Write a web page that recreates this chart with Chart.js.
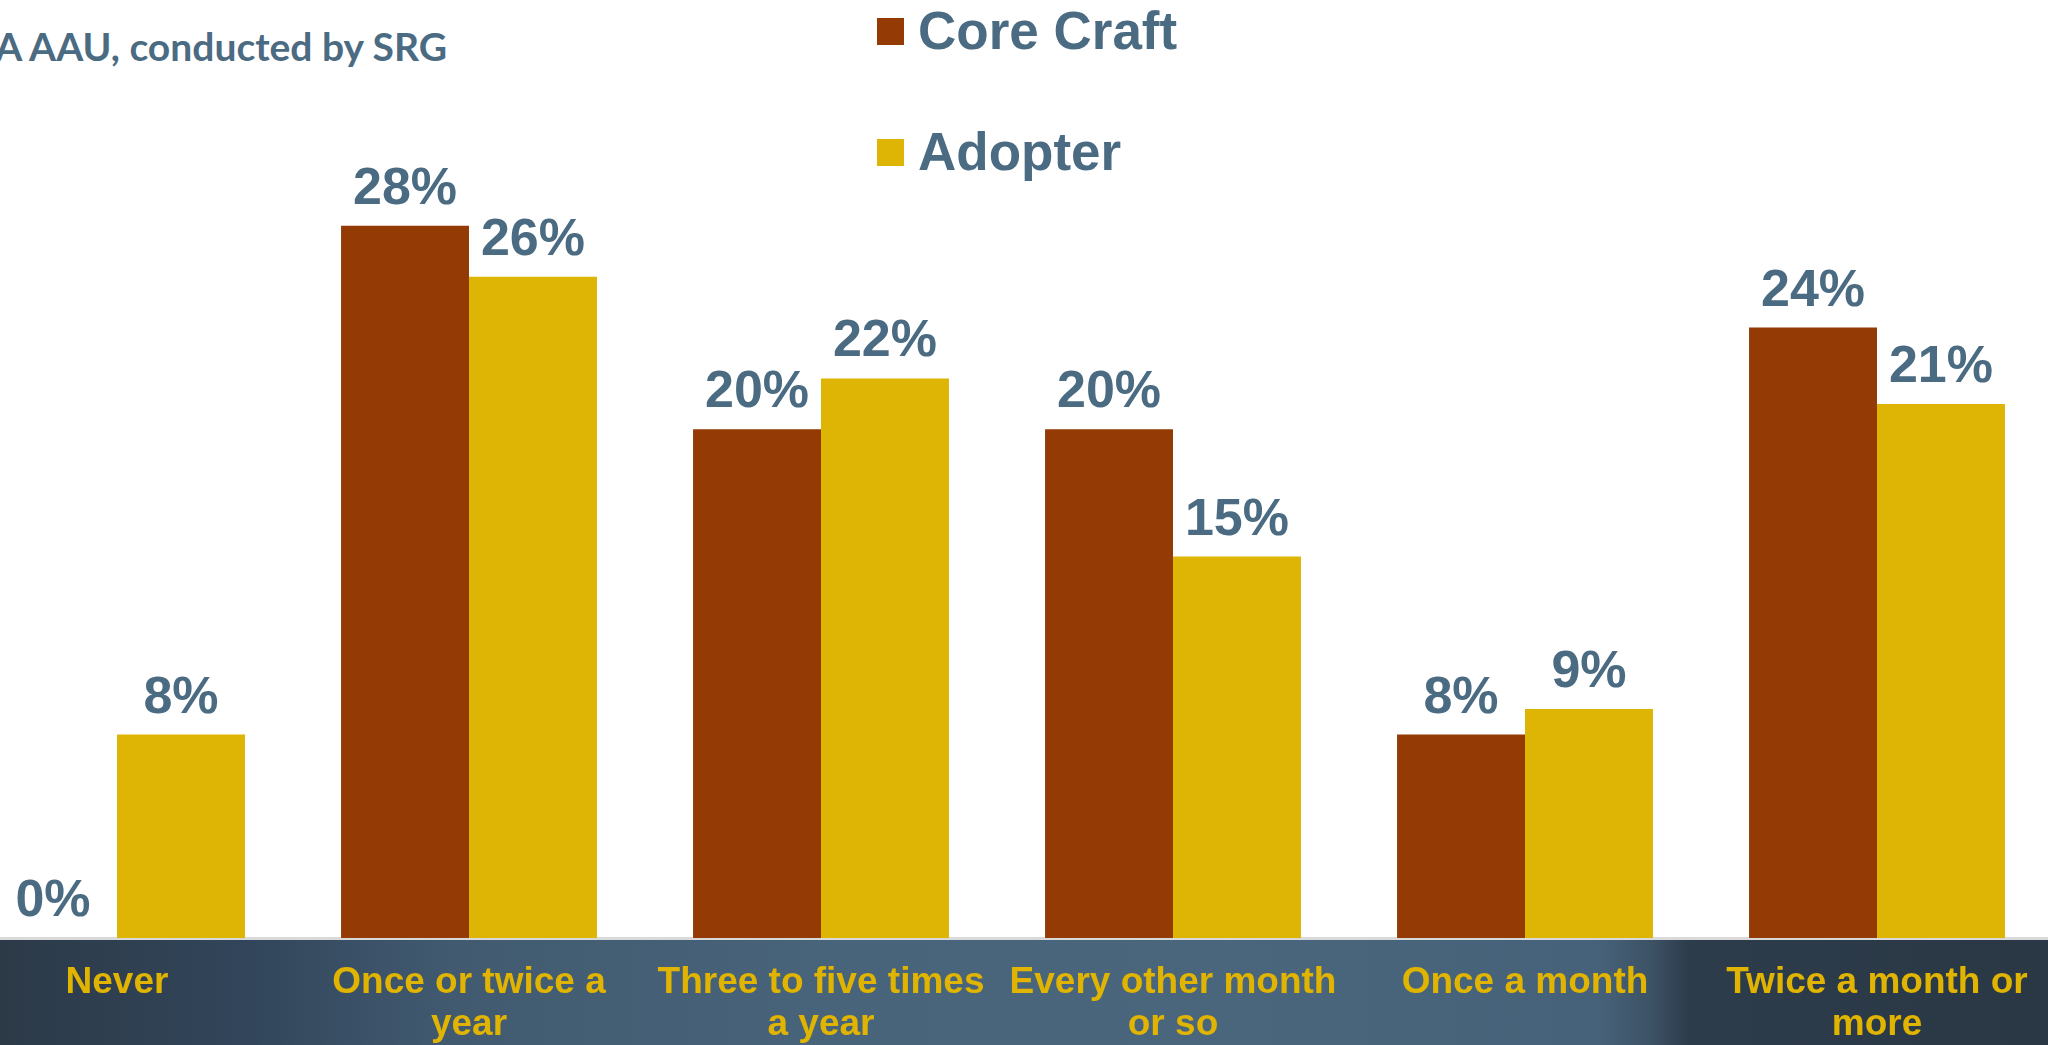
<!DOCTYPE html>
<html lang="en">
<head>
    <meta charset="UTF-8">
    <title>Purchase frequency - Core Craft vs Adopter</title>
    <script src="https://cdn.jsdelivr.net/npm/chart.js"></script>
    <style>
        body {
            margin: 0;
            width: 2048px;
            height: 1045px;
            overflow: hidden;
            background: #ffffff;
            position: relative;
            font-family: "Liberation Sans", Arial, sans-serif;
        }

        /* dark strip behind the category labels */
        .band {
            position: absolute;
            left: 0;
            top: 937px;
            width: 2048px;
            height: 108px;
            border-top: 3px solid #d9d9d9;
            box-sizing: border-box;
            background: linear-gradient(to right,
                #2c3a48 0%, #32455a 12%, #415a70 22%, #48647a 40%,
                #4a667c 60%, #46627a 78%, #3d5366 80.5%, #2d3c4b 82.5%, #2a3845 100%);
        }

        .source {
            position: absolute;
            right: 1601px;
            top: 23px;
            white-space: nowrap;
            font-family: Lato, "Open Sans", sans-serif;
            font-weight: bold;
            font-size: 39px;
            color: #4b6b83;
        }

        /* taller than the page so the label strip lands inside the band */
        .chart-box {
            position: absolute;
            left: -59px;
            top: 0;
            width: 2112px;
            height: 1070px;
        }
    </style>
</head>
<body>

    <div class="band"></div>
    <div class="source">A AAU, conducted by SRG</div>

    <div class="chart-box">
        <canvas id="freqChart"></canvas>
    </div>

    <script>
        const categories = [
            ['Never'],
            ['Once or twice a', 'year'],
            ['Three to five times', 'a year'],
            ['Every other month', 'or so'],
            ['Once a month'],
            ['Twice a month or', 'more']
        ];
        const seriesNames = ['Core Craft', 'Adopter'];
        const coreCraft = [0, 28, 20, 20, 8, 24];
        const adopter = [8, 26, 22, 15, 9, 21];
        const seriesColors = ['#943b05', '#deb405'];

        const textColor = '#4b6b83';

        // percentage labels above each bar
        const valueLabels = {
            id: 'valueLabels',
            afterDatasetsDraw(chart) {
                const ctx = chart.ctx;
                ctx.save();
                ctx.font = 'bold 52px "Liberation Sans", Arial, sans-serif';
                ctx.fillStyle = textColor;
                ctx.textAlign = 'center';
                ctx.textBaseline = 'alphabetic';
                chart.data.datasets.forEach((ds, di) => {
                    chart.getDatasetMeta(di).data.forEach((bar, i) => {
                        ctx.fillText(ds.data[i] + '%', bar.x, bar.y - 22);
                    });
                });
                ctx.restore();
            }
        };

        // stacked legend near the top centre
        const sideLegend = {
            id: 'sideLegend',
            afterDraw(chart) {
                const ctx = chart.ctx;
                const x0 = 936;
                const rows = [18, 139];
                ctx.save();
                ctx.font = 'bold 53px "Liberation Sans", Arial, sans-serif';
                ctx.textBaseline = 'alphabetic';
                chart.data.datasets.forEach((ds, di) => {
                    const y = rows[di];
                    ctx.fillStyle = ds.backgroundColor;
                    ctx.fillRect(x0, y, 27, 27);
                    ctx.fillStyle = textColor;
                    ctx.fillText(ds.label, x0 + 41, y + 31);
                });
                ctx.restore();
            }
        };

        const ctx = document.getElementById('freqChart').getContext('2d');
        const freqChart = new Chart(ctx, {
            type: 'bar',
            data: {
                labels: categories,
                datasets: [
                    { label: seriesNames[0], data: coreCraft, backgroundColor: seriesColors[0] },
                    { label: seriesNames[1], data: adopter, backgroundColor: seriesColors[1] }
                ]
            },
            options: {
                responsive: true,
                maintainAspectRatio: false,
                animation: false,
                categoryPercentage: 0.727,
                barPercentage: 1.0,
                layout: { padding: { top: 175, left: 0, right: 0, bottom: 0 } },
                plugins: {
                    legend: { display: false },
                    tooltip: { enabled: false }
                },
                scales: {
                    x: {
                        grid: { display: false, drawTicks: false },
                        border: { display: false },
                        ticks: {
                            color: '#e0b400',
                            font: { family: '"Liberation Sans", Arial, sans-serif', size: 37, weight: 'bold', lineHeight: 1.135 },
                            padding: 24,
                            maxRotation: 0,
                            autoSkip: false
                        }
                    },
                    y: {
                        display: false,
                        min: 0,
                        max: 30
                    }
                }
            },
            plugins: [valueLabels, sideLegend]
        });
    </script>

</body>
</html>
